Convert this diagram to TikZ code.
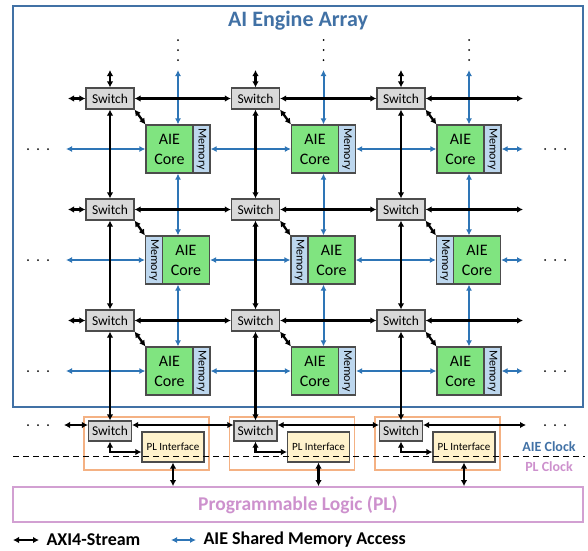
\documentclass[tikz,border=0pt]{standalone}
\usepackage{fontspec}
\setmainfont{Carlito}
\usetikzlibrary{arrows.meta}

\definecolor{arrayblue}{RGB}{65,113,165}
\definecolor{shmblue}{RGB}{46,117,182}
\definecolor{corefill}{RGB}{128,228,128}
\definecolor{memfill}{RGB}{189,215,238}
\definecolor{swfill}{RGB}{217,217,217}
\definecolor{plifill}{RGB}{255,242,204}
\definecolor{tileorange}{RGB}{244,177,131}
\definecolor{plpink}{RGB}{210,160,210}
\definecolor{pltext}{RGB}{205,145,205}

\begin{document}
\begin{tikzpicture}[x=1pt, y=-1pt,
    switch/.style={rectangle, draw=black!70, fill=swfill, line width=1.2pt, minimum width=48pt, minimum height=21pt, inner sep=0pt, font=\fontsize{13.5}{13.5}\selectfont},
    bswitch/.style={switch, minimum width=43pt, minimum height=20pt},
    core/.style={rectangle, draw=black!70, fill=corefill, line width=1.2pt, minimum width=47pt, minimum height=48pt, inner sep=0pt, align=center, font=\fontsize{16}{20}\selectfont},
    mem/.style={rectangle, draw=black!70, fill=memfill, line width=1.2pt, minimum width=17pt, minimum height=48pt, inner sep=0pt, font=\fontsize{12}{12}\selectfont},
    pli/.style={rectangle, draw=black!70, fill=plifill, line width=1.2pt, minimum width=62pt, minimum height=30pt, inner sep=0pt, font=\fontsize{11}{11}\selectfont},
    tile/.style={draw=tileorange, line width=1.2pt},
    axi/.style={{Latex[length=6pt,width=6.5pt]}-{Latex[length=6pt,width=6.5pt]}, line width=2.3pt, black},
    shm/.style={{Latex[length=6pt,width=6pt]}-{Latex[length=6pt,width=6pt]}, line width=2pt, shmblue},
    dot/.style={circle, fill=black, inner sep=0pt, minimum size=2pt}
]
    \useasboundingbox (0,0) rectangle (588,550);

    % AI Engine array frame
    \node[draw=arrayblue, line width=1.8pt, minimum width=570pt, minimum height=401pt] (array) at (298,206.5) {};
    \node[font=\fontsize{22}{22}\selectfont\bfseries, text=arrayblue] (title) at (298,21) {AI Engine Array};

    % Switches
    \node[switch] (s11) at (110,98.5) {Switch};
    \node[switch] (s12) at (255.5,98.5) {Switch};
    \node[switch] (s13) at (401,98.5) {Switch};
    \node[switch] (s21) at (110,209.5) {Switch};
    \node[switch] (s22) at (255.5,209.5) {Switch};
    \node[switch] (s23) at (401,209.5) {Switch};
    \node[switch] (s31) at (110,320.5) {Switch};
    \node[switch] (s32) at (255.5,320.5) {Switch};
    \node[switch] (s33) at (401,320.5) {Switch};

    % Cores and memories, row 1
    \node[core] (c11) at (169.5,149) {AIE\\Core};
    \node[mem] (m11) at (201.5,149) {\rotatebox{-90}{Memory}};
    \node[core] (c12) at (315,149) {AIE\\Core};
    \node[mem] (m12) at (347,149) {\rotatebox{-90}{Memory}};
    \node[core] (c13) at (460.5,149) {AIE\\Core};
    \node[mem] (m13) at (492.5,149) {\rotatebox{-90}{Memory}};

    % row 2 (memory on the left)
    \node[mem] (m21) at (154,260) {\rotatebox{-90}{Memory}};
    \node[core] (c21) at (186,260) {AIE\\Core};
    \node[mem] (m22) at (299.5,260) {\rotatebox{-90}{Memory}};
    \node[core] (c22) at (331.5,260) {AIE\\Core};
    \node[mem] (m23) at (445,260) {\rotatebox{-90}{Memory}};
    \node[core] (c23) at (477,260) {AIE\\Core};

    % row 3
    \node[core] (c31) at (169.5,371) {AIE\\Core};
    \node[mem] (m31) at (201.5,371) {\rotatebox{-90}{Memory}};
    \node[core] (c32) at (315,371) {AIE\\Core};
    \node[mem] (m32) at (347,371) {\rotatebox{-90}{Memory}};
    \node[core] (c33) at (460.5,371) {AIE\\Core};
    \node[mem] (m33) at (492.5,371) {\rotatebox{-90}{Memory}};

    % Interface tiles
    \draw[tile] (84,417) rectangle (209,470);
    \draw[tile] (229.5,417) rectangle (354.5,470);
    \draw[tile] (375,417) rectangle (500,470);
    \node[bswitch] (b1) at (110,431) {Switch};
    \node[bswitch] (b2) at (255.5,431) {Switch};
    \node[bswitch] (b3) at (401,431) {Switch};
    \node[pli] (p1) at (173,447) {PL Interface};
    \node[pli] (p2) at (318.5,447) {PL Interface};
    \node[pli] (p3) at (464,447) {PL Interface};

    % Programmable logic
    \node[draw=plpink, line width=1.8pt, minimum width=570pt, minimum height=35pt, text=pltext, font=\fontsize{19.5}{20}\selectfont\bfseries] (pl) at (298,504.5) {Programmable Logic (PL)};

    % free ends
    \coordinate (v1) at (178,0);
    \coordinate (v2) at (323.5,0);
    \coordinate (v3) at (469,0);
    \coordinate (top) at (0,70);
    \coordinate (lblue) at (66,0);
    \coordinate (rblue) at (523,0);
    \coordinate (lblack) at (68,0);
    \coordinate (bot) at (0,425);

    % Shared memory access, vertical
    \draw[shm] (c11.north -| v1) -- (v1 |- top);
    \draw[shm] (c12.north -| v2) -- (v2 |- top);
    \draw[shm] (c13.north -| v3) -- (v3 |- top);
    \draw[shm] (c11.south -| v1) -- (c21.north -| v1);
    \draw[shm] (c12.south -| v2) -- (c22.north -| v2);
    \draw[shm] (c13.south -| v3) -- (c23.north -| v3);
    \draw[shm] (c21.south -| v1) -- (c31.north -| v1);
    \draw[shm] (c22.south -| v2) -- (c32.north -| v2);
    \draw[shm] (c23.south -| v3) -- (c33.north -| v3);

    % Shared memory access, horizontal
    \draw[shm] (lblue |- c11.west) -- (c11.west);
    \draw[shm] (m11.east) -- (c12.west);
    \draw[shm] (m12.east) -- (c13.west);
    \draw[shm] (m13.east) -- (rblue |- m13.east);
    \draw[shm] (lblue |- m21.west) -- (m21.west);
    \draw[shm] (c21.east) -- (m22.west);
    \draw[shm] (c22.east) -- (m23.west);
    \draw[shm] (c23.east) -- (rblue |- c23.east);
    \draw[shm] (lblue |- c31.west) -- (c31.west);
    \draw[shm] (m31.east) -- (c32.west);
    \draw[shm] (m32.east) -- (c33.west);
    \draw[shm] (m33.east) -- (rblue |- m33.east);

    % AXI4-Stream, vertical
    \draw[axi] (s11.north) -- (s11.north |- top);
    \draw[axi] (s12.north) -- (s12.north |- top);
    \draw[axi] (s13.north) -- (s13.north |- top);
    \draw[axi] (s11.south) -- (s21.north);
    \draw[axi] (s12.south) -- (s22.north);
    \draw[axi] (s13.south) -- (s23.north);
    \draw[axi] (s21.south) -- (s31.north);
    \draw[axi] (s22.south) -- (s32.north);
    \draw[axi] (s23.south) -- (s33.north);
    \draw[axi] (s31.south) -- (b1.north);
    \draw[axi] (s32.south) -- (b2.north);
    \draw[axi] (s33.south) -- (b3.north);

    % AXI4-Stream, horizontal
    \draw[axi] (lblack |- s11.west) -- (s11.west);
    \draw[axi] (s11.east) -- (s12.west);
    \draw[axi] (s12.east) -- (s13.west);
    \draw[axi] (s13.east) -- (rblue |- s13.east);
    \draw[axi] (lblack |- s21.west) -- (s21.west);
    \draw[axi] (s21.east) -- (s22.west);
    \draw[axi] (s22.east) -- (s23.west);
    \draw[axi] (s23.east) -- (rblue |- s23.east);
    \draw[axi] (lblack |- s31.west) -- (s31.west);
    \draw[axi] (s31.east) -- (s32.west);
    \draw[axi] (s32.east) -- (s33.west);
    \draw[axi] (s33.east) -- (rblue |- s33.east);

    % switch to core
    \draw[axi] (s11.south east) -- (c11.north west);
    \draw[axi] (s12.south east) -- (c12.north west);
    \draw[axi] (s13.south east) -- (c13.north west);
    \draw[axi] (s21.south east) -- (m21.north west);
    \draw[axi] (s22.south east) -- (m22.north west);
    \draw[axi] (s23.south east) -- (m23.north west);
    \draw[axi] (s31.south east) -- (c31.north west);
    \draw[axi] (s32.south east) -- (c32.north west);
    \draw[axi] (s33.south east) -- (c33.north west);

    % interface row
    \draw[axi] (64,425) -- (b1.west |- bot);
    \draw[axi] (b1.east |- bot) -- (b2.west |- bot);
    \draw[axi] (b2.east |- bot) -- (b3.west |- bot);
    \draw[axi] (b3.east |- bot) -- (526,425);
    \draw[axi] (b1.south) |- ([yshift=-5pt]p1.west);
    \draw[axi] (b2.south) |- ([yshift=-5pt]p2.west);
    \draw[axi] (b3.south) |- ([yshift=-5pt]p3.west);
    \draw[axi] (p1.south) -- (p1.south |- pl.north);
    \draw[axi] (p2.south) -- (p2.south |- pl.north);
    \draw[axi] (p3.south) -- (p3.south |- pl.north);

    % clock boundary
    \draw[line width=0.9pt, dash pattern=on 6pt off 4pt] (13,456) -- (585,456);
    \node[font=\fontsize{14}{14}\selectfont\bfseries, text=arrayblue] (aieclk) at (549,447) {AIE Clock};
    \node[font=\fontsize{14}{14}\selectfont\bfseries, text=pltext] (plclk) at (549,467) {PL Clock};

    % dots
    \foreach \y in {40,50,60} {
        \node[dot] at (178,\y) {};
        \node[dot] at (323.5,\y) {};
        \node[dot] at (469,\y) {};
    }
    \foreach \y in {149,260,371,425} {
        \node[dot] at (28,\y) {};
        \node[dot] at (38,\y) {};
        \node[dot] at (48,\y) {};
        \node[dot] at (545,\y) {};
        \node[dot] at (555,\y) {};
        \node[dot] at (565,\y) {};
    }

    % legend
    \coordinate (la) at (13,540);
    \coordinate (lb) at (39,540);
    \coordinate (lc) at (171,540);
    \coordinate (ld) at (196,540);
    \draw[axi] (la) -- (lb);
    \node[anchor=west, font=\fontsize{18}{18}\selectfont\bfseries] (axitxt) at (43,540) {AXI4-Stream};
    \draw[shm] (lc) -- (ld);
    \node[anchor=west, font=\fontsize{18}{18}\selectfont\bfseries] (shmtxt) at (200,540) {AIE Shared Memory Access};

\end{tikzpicture}
\end{document}
